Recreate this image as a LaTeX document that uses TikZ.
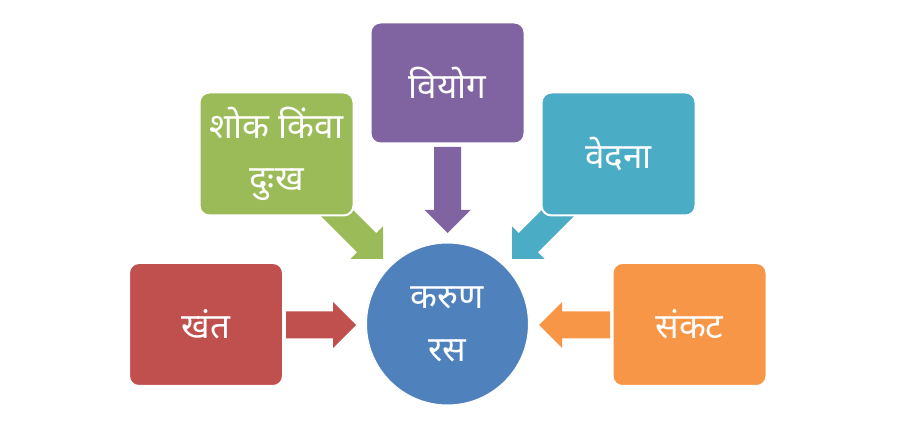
\documentclass[tikz,border=0pt]{standalone}
\usepackage{fontspec}
\newfontfamily\deva[Script=Devanagari]{Noto Sans}
\definecolor{cred}{RGB}{192,80,77}
\definecolor{cgreen}{RGB}{155,187,89}
\definecolor{cpurple}{RGB}{128,100,162}
\definecolor{caqua}{RGB}{75,172,198}
\definecolor{corange}{RGB}{247,150,70}
\definecolor{cblue}{RGB}{79,129,189}
\newcommand\blkarrow[4]{\fill[#1, shift={(#2)}, rotate=#3] (0,0) -- (-23,23) -- (-23,13.5) -- (-#4,13.5) -- (-#4,-13.5) -- (-23,-13.5) -- (-23,-23) -- cycle;}
\begin{document}
\begin{tikzpicture}[x=1pt,y=1pt,
  boxnode/.style={rectangle, rounded corners=10pt, minimum width=154pt, minimum height=123pt, draw=white, line width=2pt, text=white, font=\deva\fontsize{35}{52}\selectfont, align=center, inner sep=0pt},
  hub/.style={circle, minimum size=162pt, fill=cblue, draw=white, line width=1pt, text=white, font=\deva\fontsize{35}{53}\selectfont, align=center, inner sep=0pt}]
\useasboundingbox (0,0) rectangle (902,428);
% arrow tips
\coordinate (tipred) at (356,103);
\coordinate (tiporange) at (539,103);
\coordinate (tippurple) at (447.5,195);
\coordinate (tipgreen) at (383,169);
\coordinate (tipaqua) at (512,169);
\blkarrow{cred}{tipred}{0}{70}
\blkarrow{corange}{tiporange}{180}{71}
\blkarrow{cpurple}{tippurple}{-90}{86}
\blkarrow{cgreen}{tipgreen}{-45}{85}
\blkarrow{caqua}{tipaqua}{-135}{85}
\node[hub] (karun) at (447.5,104) {करुण\\रस};
\node[boxnode, fill=cred] (khant) at (206,103.5) {खंत};
\node[boxnode, fill=corange] (sankat) at (689.5,103.5) {संकट};
\node[boxnode, fill=cgreen] (shok) at (276.5,274) {शोक किंवा\\दुःख};
\node[boxnode, fill=caqua] (vedana) at (618.5,274) {वेदना};
\node[boxnode, fill=cpurple, minimum height=121pt] (viyog) at (447.5,345) {वियोग};
\end{tikzpicture}
\end{document}
